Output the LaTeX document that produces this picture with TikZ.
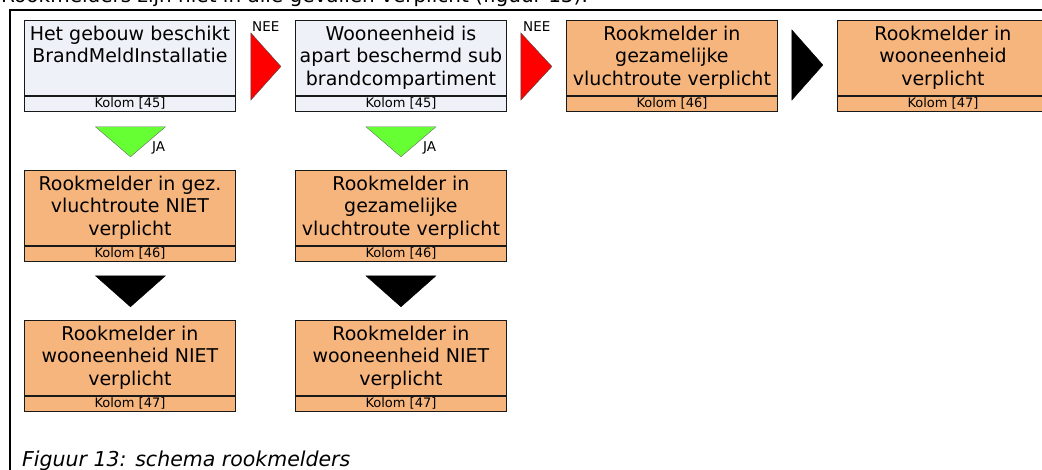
\documentclass[tikz,border=0pt]{standalone}
\usepackage{fontspec}
\setmainfont{DejaVu Sans}
\usetikzlibrary{calc}
\definecolor{boxgray}{RGB}{238,241,247}
\definecolor{boxorange}{RGB}{247,181,126}
\definecolor{arrgreen}{RGB}{102,255,51}
\definecolor{arrred}{RGB}{255,0,0}
\tikzset{
  boxmain/.style={draw=black!90, line width=0.9pt, rectangle, minimum width=211pt, minimum height=75pt, inner sep=0pt},
  boxfoot/.style={draw=black!90, line width=0.9pt, rectangle, minimum width=211pt, minimum height=15pt, inner sep=0pt, font=\fontsize{13}{13}\selectfont},
  boxtext/.style={align=center, inner sep=0pt, font=\fontsize{19}{22.5}\selectfont},
  lbl/.style={inner sep=0pt, font=\fontsize{13.5}{13.5}\selectfont},
  redtri/.style={fill=arrred, draw=black!70, line width=0.4pt},
  greentri/.style={fill=arrgreen, draw=black!60, line width=0.4pt},
  blacktri/.style={fill=black, draw=black, line width=0.4pt},
}
\newcommand\mybox[6]{%
  \node[boxmain, fill=#4, anchor=north west] (#1) at (#2,#3) {};
  \node[boxfoot, fill=#4, anchor=north] (#1f) at (#1.south) {Kolom [#6]};
  \node[boxtext, anchor=north] (#1t) at ($(#1.north)+(0,5.5)$) {#5};
}
\begin{document}
\begin{tikzpicture}[x=1pt,y=-1pt]
\useasboundingbox (0,0) rectangle (1042,470);
\clip (0,0) rectangle (1042,470);
\fill[white] (0,0) rectangle (1042,470);
% header text (cut off at top, as in the reference)
\node[anchor=base west, inner sep=0pt, font=\fontsize{20}{20}\selectfont] (head) at (1,3) {Rookmelders zijn niet in alle gevallen verplicht (figuur 13).};
% frame
\coordinate (fTL) at (10,10);
\coordinate (fTR) at (1042,10);
\coordinate (fBL) at (10,470);
\draw[line width=2pt] (fTR) -- (fTL) -- (fBL);
% row 1
\mybox{a}{24}{20}{boxgray}{Het gebouw beschikt\\BrandMeldInstallatie}{45}
\mybox{b}{295}{20}{boxgray}{Wooneenheid is\\apart beschermd sub\\brandcompartiment}{45}
\mybox{c}{566}{20}{boxorange}{Rookmelder in\\gezamelijke\\vluchtroute verplicht}{46}
\mybox{d}{837}{20}{boxorange}{Rookmelder in\\wooneenheid\\verplicht}{47}
% row 2
\mybox{e}{24}{170}{boxorange}{Rookmelder in gez.\\vluchtroute NIET\\verplicht}{46}
\mybox{f}{295}{170}{boxorange}{Rookmelder in\\gezamelijke\\vluchtroute verplicht}{46}
% row 3
\mybox{g}{24}{320}{boxorange}{Rookmelder in\\wooneenheid NIET\\verplicht}{47}
\mybox{h}{295}{320}{boxorange}{Rookmelder in\\wooneenheid NIET\\verplicht}{47}
% horizontal arrows (triangles)
\draw[redtri] ($(a.north east)+(15,13)$) -- ($(a.north east)+(45,46.5)$) -- ($(a.north east)+(15,80)$) -- cycle;
\draw[redtri] ($(b.north east)+(14,13)$) -- ($(b.north east)+(45,46.5)$) -- ($(b.north east)+(14,80)$) -- cycle;
\draw[blacktri] ($(c.north east)+(14,10)$) -- ($(c.north east)+(45,45)$) -- ($(c.north east)+(14,80)$) -- cycle;
\node[lbl, anchor=base west] (nee1) at (252,31.5) {NEE};
\node[lbl, anchor=base west] (nee2) at (523,31.5) {NEE};
% vertical arrows
\draw[greentri] ($(af.south)+(-34.5,15)$) -- ($(af.south)+(35.5,15)$) -- ($(af.south)+(0.5,45)$) -- cycle;
\draw[greentri] ($(bf.south)+(-35,15)$) -- ($(bf.south)+(35,15)$) -- ($(bf.south)+(0,45)$) -- cycle;
\node[lbl, anchor=base west] (ja1) at (152,152) {JA};
\node[lbl, anchor=base west] (ja2) at (423,152) {JA};
\draw[blacktri] ($(ef.south)+(-34.5,14)$) -- ($(ef.south)+(35.5,14)$) -- ($(ef.south)+(0.5,45)$) -- cycle;
\draw[blacktri] ($(ff.south)+(-35,14)$) -- ($(ff.south)+(35,14)$) -- ($(ff.south)+(0,45)$) -- cycle;
% caption
\node[anchor=base west, inner sep=0pt, font=\itshape\fontsize{20.5}{20.5}\selectfont] (cap) at (22,466) {Figuur 13: schema rookmelders};
\end{tikzpicture}
\end{document}
